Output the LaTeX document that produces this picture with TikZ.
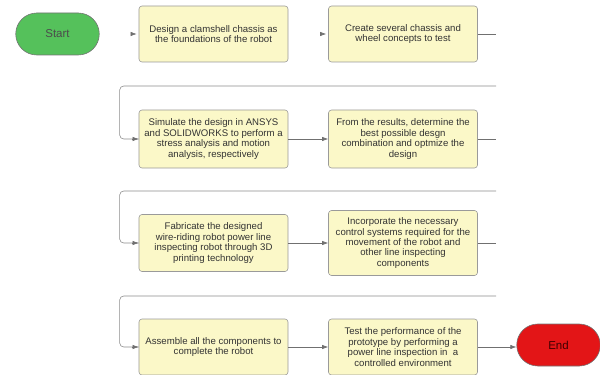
\documentclass[tikz,border=0pt]{standalone}
\usepackage{fontspec}
\setmainfont{Liberation Sans}
\usetikzlibrary{arrows.meta,shapes.misc}
\definecolor{TaskFill}{HTML}{FBF8C8}
\definecolor{TaskLine}{HTML}{9A9A9A}
\definecolor{LinkGray}{HTML}{707070}
\definecolor{BackGray}{HTML}{8C8C8C}
\definecolor{StartGreen}{HTML}{55C15B}
\definecolor{EndRed}{HTML}{E31517}

\begin{document}
\begin{tikzpicture}[x=0.03cm, y=0.03cm, line width=0.5pt,
        every node/.append style={font=\fontsize{8.2}{8.9}\selectfont, text=black!80}]
      \tikzstyle{task} = [rectangle, rounded corners=0.9mm, draw=TaskLine, fill=TaskFill,
                          minimum width=44.7mm, minimum height=16.8mm, align=center, inner sep=1pt]
      \tikzstyle{terminal} = [rounded rectangle, draw=black!55, minimum width=27.4mm,
                              minimum height=12.6mm, font=\fontsize{9.8}{11}\selectfont]
      \tikzstyle{link} = [draw=LinkGray, -{Latex[length=1.8mm, width=1.3mm]}]
      \tikzstyle{back} = [draw=BackGray, rounded corners=1.2mm]
      \useasboundingbox (0,0) rectangle (600,-375);
      \clip (0,0) rectangle (600,-375);
      \node (Start) [terminal, fill=StartGreen, text=black!70] at (57.5,-34) {Start};
      \node (Design) [task] at (213.5,-34) {Design a clamshell chassis as\\the foundations of the robot};
      \node (Create) [task] at (403,-34) {Create several chassis and\\wheel concepts to test};
      \node (Simulate) [task, minimum height=17.4mm] at (213.5,-139)
        {Simulate the design in ANSYS\\and SOLIDWORKS to perform a\\stress analysis and motion\\analysis, respectively};
      \node (Results) [task, minimum height=17.4mm] at (403,-139)
        {From the results, determine the\\best possible desgn\\combination and optmize the\\design};
      \node (Fabricate) [task, minimum height=17.1mm] at (213.5,-243)
        {Fabricate the designed\\wire-riding robot power line\\inspecting robot through 3D\\printing technology};
      \node (Incorporate) [task, minimum height=19.5mm] at (403,-243)
        {Incorporate the necessary\\control systems required for the\\movement of the robot and\\other line inspecting\\components};
      \node (Assemble) [task] at (213.5,-347)
        {Assemble all the components to\\complete the robot};
      \node (Test) [task] at (403,-347)
        {Test the performance of the\\prototype by performing a\\power line inspection in\ \ a\\controlled environment};
      \node (End) [terminal, fill=EndRed, text=black!75!red] at (558.5,-345) {End};
      \coordinate (turn1) at (496,-34);
      \coordinate (back1) at (496,-86);
      \coordinate (turn2) at (496,-139);
      \coordinate (back2) at (496,-191);
      \coordinate (turn3) at (496,-243);
      \coordinate (back3) at (496,-296);
      \draw[link] ([xshift=-2.1mm]Design.west) -- ([xshift=-0.6mm]Design.west);
      \draw[link] ([xshift=-2.1mm]Create.west) -- ([xshift=-0.6mm]Create.west);
      \draw[draw=LinkGray] (Create.east) -- (turn1);
      \draw[back] (back1) -| ([xshift=-5.7mm]Simulate.west) -- (Simulate.west);
      \draw[link] ([xshift=-2.1mm]Simulate.west) -- (Simulate.west);
      \draw[link] (Simulate) -- (Results);
      \draw[draw=LinkGray] (Results.east) -- (turn2);
      \draw[back] (back2) -| ([xshift=-5.7mm]Fabricate.west) -- (Fabricate.west);
      \draw[link] ([xshift=-2.1mm]Fabricate.west) -- (Fabricate.west);
      \draw[link] (Fabricate) -- (Incorporate);
      \draw[draw=LinkGray] (Incorporate.east) -- (turn3);
      \draw[back] (back3) -| ([xshift=-5.7mm]Assemble.west) -- (Assemble.west);
      \draw[link] ([xshift=-2.1mm]Assemble.west) -- (Assemble.west);
      \draw[link] (Assemble) -- (Test);
      \draw[link] (Test.east) -- (Test.east -| End.west);
    \end{tikzpicture}
\end{document}
